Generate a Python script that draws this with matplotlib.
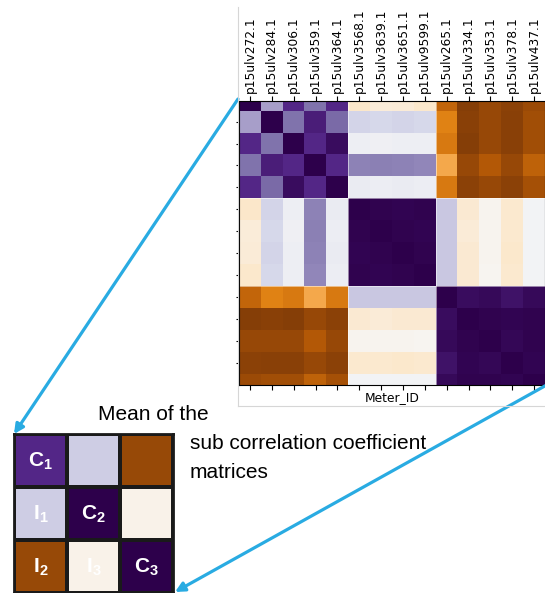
import numpy as np
import matplotlib
matplotlib.use('Agg')
import matplotlib.pyplot as plt
from matplotlib.patches import FancyArrowPatch

# 数学文本使用 Arial 风格的粗体
plt.rcParams['mathtext.fontset'] = 'custom'
plt.rcParams['mathtext.bf'] = 'Liberation Sans:bold'
plt.rcParams['mathtext.rm'] = 'Liberation Sans'

# 电表编号
meter_ids = ['p15ulv272.1', 'p15ulv284.1', 'p15ulv306.1', 'p15ulv359.1', 'p15ulv364.1',
             'p15ulv3568.1', 'p15ulv3639.1', 'p15ulv3651.1', 'p15ulv9599.1',
             'p15ulv265.1', 'p15ulv334.1', 'p15ulv353.1', 'p15ulv378.1', 'p15ulv437.1']

# 相关系数矩阵
corr = [
    [1.00, 0.44, 0.80, 0.60, 0.80, -0.14, -0.09, -0.10, -0.13, -0.73, -0.97, -0.90, -0.95, -0.89],
    [0.44, 1.00, 0.60, 0.85, 0.62, 0.22, 0.21, 0.22, 0.21, -0.60, -0.96, -0.90, -0.96, -0.86],
    [0.80, 0.60, 1.00, 0.80, 0.93, 0.06, 0.05, 0.06, 0.06, -0.64, -0.97, -0.90, -0.96, -0.86],
    [0.60, 0.85, 0.80, 1.00, 0.80, 0.54, 0.55, 0.54, 0.53, -0.46, -0.90, -0.79, -0.90, -0.75],
    [0.80, 0.62, 0.93, 0.80, 1.00, 0.08, 0.07, 0.08, 0.07, -0.64, -0.95, -0.90, -0.95, -0.85],
    [-0.14, 0.22, 0.06, 0.54, 0.08, 1.00, 0.98, 0.97, 0.98, 0.28, -0.11, -0.03, -0.12, 0.03],
    [-0.09, 0.21, 0.05, 0.55, 0.07, 0.98, 1.00, 0.98, 0.97, 0.28, -0.10, -0.03, -0.12, 0.03],
    [-0.10, 0.22, 0.06, 0.54, 0.08, 0.97, 0.98, 1.00, 0.98, 0.28, -0.11, -0.03, -0.13, 0.03],
    [-0.13, 0.21, 0.06, 0.53, 0.07, 0.98, 0.97, 0.98, 1.00, 0.28, -0.11, -0.02, -0.12, 0.03],
    [-0.73, -0.60, -0.64, -0.46, -0.64, 0.28, 0.28, 0.28, 0.28, 1.00, 0.93, 0.95, 0.90, 0.95],
    [-0.97, -0.96, -0.97, -0.90, -0.95, -0.11, -0.10, -0.11, -0.11, 0.93, 1.00, 0.98, 0.97, 0.98],
    [-0.90, -0.90, -0.90, -0.79, -0.90, -0.03, -0.03, -0.03, -0.02, 0.95, 0.98, 1.00, 0.96, 0.98],
    [-0.95, -0.96, -0.96, -0.90, -0.95, -0.12, -0.12, -0.13, -0.12, 0.90, 0.97, 0.96, 1.00, 0.97],
    [-0.89, -0.86, -0.86, -0.75, -0.85, 0.03, 0.03, 0.03, 0.03, 0.95, 0.98, 0.98, 0.97, 1.00],
]

# 子矩阵均值（3x3）及标签
block_means = [
    [0.80, 0.25, -0.90],
    [0.25, 1.00, -0.04],
    [-0.90, -0.04, 1.00],
]
block_labels = [
    [r'$\mathbf{C}_{\mathbf{1}}$', '', ''],
    [r'$\mathbf{I}_{\mathbf{1}}$', r'$\mathbf{C}_{\mathbf{2}}$', ''],
    [r'$\mathbf{I}_{\mathbf{2}}$', r'$\mathbf{I}_{\mathbf{3}}$', r'$\mathbf{C}_{\mathbf{3}}$'],
]

W, H = 545, 593
fig = plt.figure(figsize=(W / 100, H / 100), dpi=100)

# ---- 相关系数热图 ----
ax = fig.add_axes([239 / W, 1 - 385 / H, 1 - 239 / W, (385 - 101) / H])
ax.imshow(np.array(corr), cmap='PuOr', vmin=-1, vmax=1, aspect='auto',
          interpolation='nearest')
for b in [4.5, 8.5]:
    ax.axhline(b, color='white', lw=0.6, alpha=0.6)
    ax.axvline(b, color='white', lw=0.6, alpha=0.6)
ax.set_xlim(-0.5, 13.5)
ax.set_ylim(13.02, 0.06)
ax.set_xticks(range(len(meter_ids)))
ax.set_xticklabels(meter_ids, rotation=90, fontsize=8.8)
ax.tick_params(axis='x', top=True, bottom=True, labeltop=True, labelbottom=False,
               length=3.5, width=0.8, pad=2)
ax.set_yticks(range(1, 13))
ax.set_yticklabels([])
ax.tick_params(axis='y', length=2.5, width=0.8)
ax.set_xlabel('Meter_ID', fontsize=8.8, labelpad=1)
ax.xaxis.set_label_position('bottom')
for s in ax.spines.values():
    s.set_linewidth(0.8)

# ---- 子矩阵均值 ----
ax2 = fig.add_axes([14 / W, 0, (173 - 14) / W, (593 - 434) / H])
ax2.pcolormesh(np.array(block_means), cmap='PuOr', vmin=-1, vmax=1,
               edgecolors='#1a1a1a', linewidth=1.5)
ax2.set_xlim(0, 3)
ax2.set_ylim(3, 0)
ax2.set_xticks([])
ax2.set_yticks([])
for s in ax2.spines.values():
    s.set_linewidth(2)
    s.set_color('#1a1a1a')
for i in range(3):
    for j in range(3):
        if block_labels[i][j]:
            ax2.text(j + 0.5, i + 0.52, block_labels[i][j], ha='center', va='center',
                     color='white', fontsize=15)

# ---- 说明文字和箭头（像素坐标） ----
ov = fig.add_axes([0, 0, 1, 1], zorder=10)
ov.set_xlim(0, W)
ov.set_ylim(H, 0)
ov.axis('off')
ov.patch.set_alpha(0)

ov.plot([237.5, 237.5], [7, 405.5], color='#d6d6d6', lw=0.8)
ov.plot([237.5, W], [405.5, 405.5], color='#d6d6d6', lw=0.8)

txt = dict(fontsize=15, family='Liberation Sans', color='black', va='baseline')
ov.text(98, 420, 'Mean of the', **txt)
ov.text(190, 449, 'sub correlation coefficient', **txt)
ov.text(190, 478, 'matrices', **txt)

blue = '#29abe2'
for (x0, y0), (x1, y1) in [((238, 99), (14, 434)), ((552, 382), (175, 592))]:
    ov.add_patch(FancyArrowPatch((x0, y0), (x1, y1), arrowstyle='-|>',
                                 mutation_scale=14, color=blue, lw=2.3,
                                 shrinkA=0, shrinkB=0))

fig.savefig('out.png', dpi=100)
